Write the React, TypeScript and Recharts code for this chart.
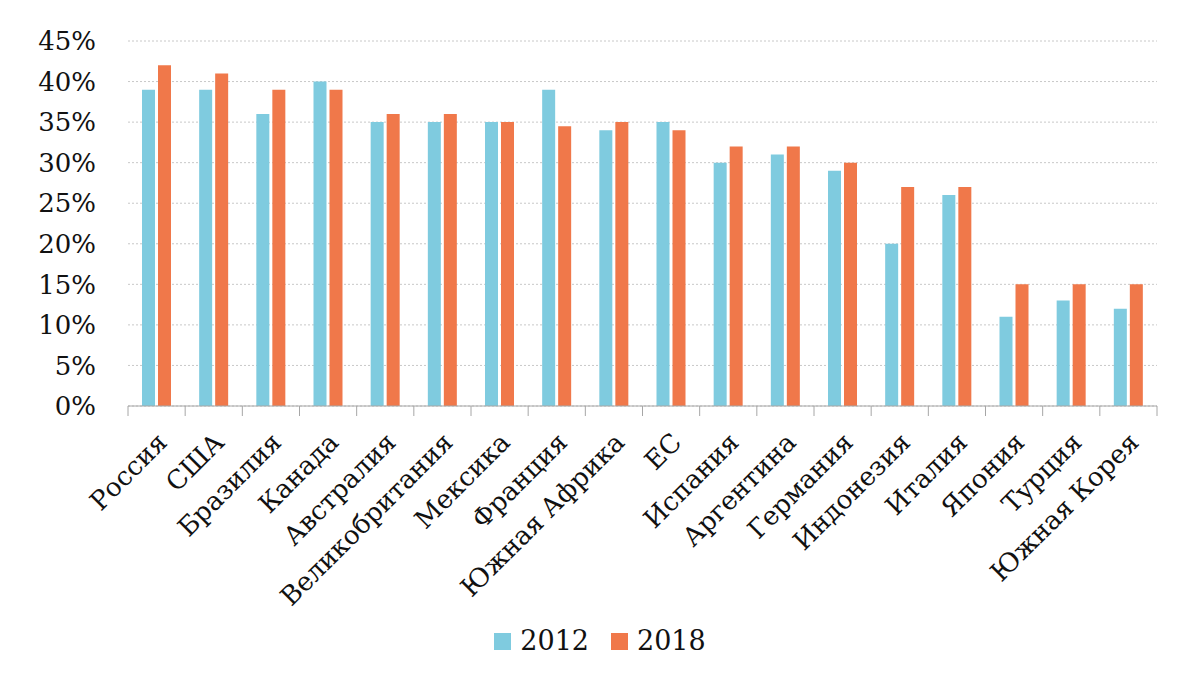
import React from 'react';
import { BarChart, Bar, XAxis, YAxis, CartesianGrid, Legend } from 'recharts';

const countries = [
  'Россия', 'США', 'Бразилия', 'Канада', 'Австралия', 'Великобритания', 'Мексика', 'Франция',
  'Южная Африка', 'ЕС', 'Испания', 'Аргентина', 'Германия', 'Индонезия', 'Италия', 'Япония',
  'Турция', 'Южная Корея',
];
const values2012 = [39, 39, 36, 40, 35, 35, 35, 39, 34, 35, 30, 31, 29, 20, 26, 11, 13, 12];
const values2018 = [42, 41, 39, 39, 36, 36, 35, 34.5, 35, 34, 32, 32, 30, 27, 27, 15, 15, 15];
const yTicks = [0, 5, 10, 15, 20, 25, 30, 35, 40, 45];

const data = countries.map((name, i) => ({ name, y2012: values2012[i], y2018: values2018[i] }));

const W = 1200;
const H = 675;
const LEFT = 128;
const RIGHT = 43;
const band = (W - LEFT - RIGHT) / countries.length;
const FONT = '"DejaVu Serif", serif';

const XTick = (props: any) => {
  const { x, y, payload, index } = props;
  const last = index === countries.length - 1;
  const ax = x + 12;
  const ay = y + 38;
  return (
    <g>
      <line x1={x - band / 2} x2={x - band / 2} y1={y} y2={y + 10} stroke="#a6a6a6" />
      {last && <line x1={x + band / 2} x2={x + band / 2} y1={y} y2={y + 10} stroke="#a6a6a6" />}
      <text
        x={ax}
        y={ay}
        textAnchor="end"
        transform={`rotate(-45, ${ax}, ${ay})`}
        fontSize={26}
        fontFamily={FONT}
        fill="#111"
      >
        {payload.value}
      </text>
    </g>
  );
};

const LegendContent = (props: any) => (
  <div style={{ display: 'flex', justifyContent: 'center', alignItems: 'center', paddingTop: 6 }}>
    {props.payload.map((e: any) => (
      <div key={e.value} style={{ display: 'flex', alignItems: 'center', margin: '0 11px' }}>
        <span style={{ width: 17, height: 17, background: e.color, display: 'inline-block', marginRight: 9 }} />
        <span style={{ color: '#111', fontSize: 27, fontFamily: FONT, lineHeight: '30px' }}>{e.value}</span>
      </div>
    ))}
  </div>
);

export default function App() {
  return (
    <div style={{ width: W, height: H, background: '#fff' }}>
      <style>{'body{margin:0}'}</style>
      <BarChart
        width={W}
        height={H}
        data={data}
        margin={{ top: 41, right: RIGHT, bottom: 15, left: 0 }}
        barSize={13}
        barGap={3}
      >
        <CartesianGrid vertical={false} stroke="#c8c8c8" strokeDasharray="2 2" />
        <XAxis
          dataKey="name"
          interval={0}
          height={214}
          tickLine={false}
          tickSize={0}
          tickMargin={0}
          axisLine={{ stroke: '#a6a6a6' }}
          tick={<XTick />}
        />
        <YAxis
          width={LEFT}
          domain={[0, 45]}
          ticks={yTicks}
          interval={0}
          axisLine={false}
          tickLine={false}
          tickSize={0}
          tickMargin={32}
          tickFormatter={(v: number) => `${v}%`}
          tick={{ fontSize: 26, fontFamily: FONT, fill: '#111' }}
        />
        <Legend
          verticalAlign="bottom"
          height={40}
          wrapperStyle={{ left: 0, width: W }}
          content={<LegendContent />}
        />
        <Bar dataKey="y2012" name="2012" fill="#7fcbdf" isAnimationActive={false} />
        <Bar dataKey="y2018" name="2018" fill="#f0784a" isAnimationActive={false} />
      </BarChart>
    </div>
  );
}
